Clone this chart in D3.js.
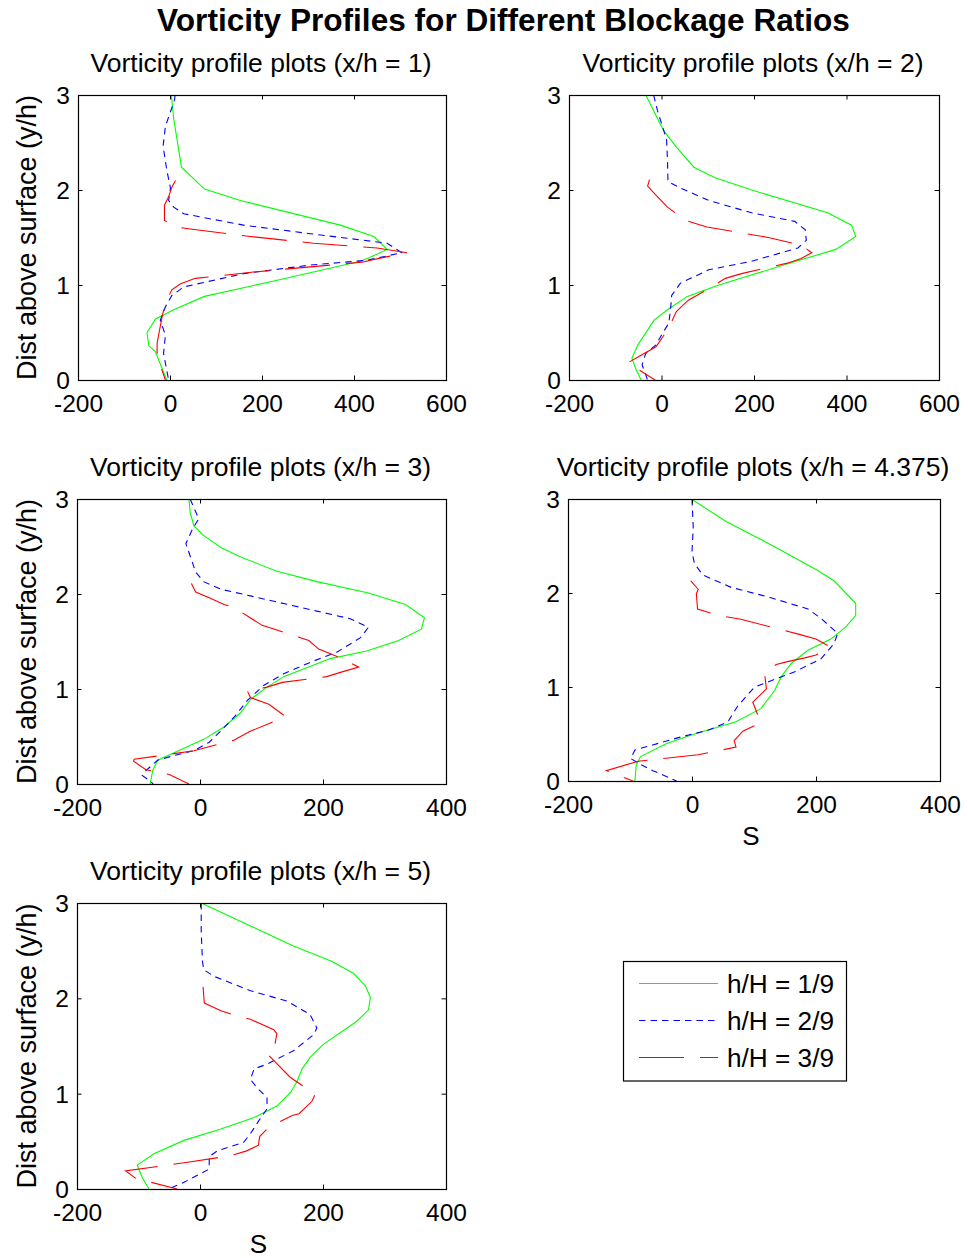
<!DOCTYPE html>
<html>
<head>
<meta charset="utf-8">
<script src="https://cdn.jsdelivr.net/npm/d3@7/dist/d3.min.js"></script>
<style>
  html, body { margin: 0; padding: 0; background: #fff; }
  svg { display: block; }
  text { font-family: "Liberation Sans", Arial, Helvetica, sans-serif; fill: #000; }
</style>
</head>
<body>
<svg id="chart" width="968" height="1258"></svg>
<script>
// ---------------- DATA ----------------
const chartTitle = "Vorticity Profiles for Different Blockage Ratios";
const panelTitles = [
  "Vorticity profile plots (x/h = 1)",
  "Vorticity profile plots (x/h = 2)",
  "Vorticity profile plots (x/h = 3)",
  "Vorticity profile plots (x/h = 4.375)",
  "Vorticity profile plots (x/h = 5)"
];
const seriesNames = ["h/H = 1/9", "h/H = 2/9", "h/H = 3/9"];
const yLabel = "Dist above surface (y/h)";
const xLabel = "S";
const yTicks = [0, 1, 2, 3];
const xTicksWide = [-200, 0, 200, 400, 600];
const xTicksNarrow = [-200, 0, 200, 400];

// each point: [S, y/h]
const p1Green = [[3,3.0],[8,2.75],[25,2.24],[75,2.01],[153,1.89],[370,1.63],[443,1.51],[472,1.375],[439,1.30],[414,1.25],[233,1.05],[75,0.88],[8,0.74],[-32,0.64],[-50,0.50],[-46,0.36],[-32,0.30],[-7,0]];
const p1Blue = [[11,3.0],[10,2.95],[-10,2.67],[-15,2.46],[-7,2.21],[1,2.02],[-3,1.89],[8,1.82],[30,1.75],[160,1.63],[305,1.54],[472,1.44],[504,1.34],[428,1.26],[305,1.21],[160,1.12],[30,0.98],[4,0.89],[-10,0.77],[-21,0.63],[-10,0.47],[-14,0.28],[-3,0]];
const p1Red = [[12,2.1],[5,2.04],[-3,1.93],[-12,1.84],[-12,1.68],[15,1.61],[44,1.59],[175,1.51],[312,1.44],[450,1.39],[515,1.34],[454,1.28],[417,1.24],[189,1.14],[55,1.07],[22,1.01],[4,0.95],[-10,0.81],[-17,0.67],[-28,0.39],[-28,0.25],[-10,0]];

const p2Green = [[-34,3.0],[4,2.63],[31,2.46],[70,2.24],[116,2.13],[195,2.0],[359,1.76],[411,1.63],[420,1.51],[377,1.375],[298,1.26],[124,1.0],[56,0.88],[16,0.75],[-16,0.63],[-51,0.37],[-64,0.23],[-55,0.11],[-44,0]];
const p2Blue = [[-17,3.0],[-9,2.84],[2,2.67],[11,2.53],[13,2.30],[14,2.09],[41,2.02],[102,1.89],[195,1.76],[288,1.67],[311,1.58],[313,1.47],[295,1.39],[195,1.25],[102,1.16],[41,1.02],[22,0.89],[20,0.77],[16,0.60],[2,0.49],[-12,0.37],[-34,0.28],[-42,0.16],[-30,0]];
const p2Red = [[-26,2.11],[-30,2.04],[-11,1.94],[13,1.82],[52,1.68],[98,1.61],[231,1.50],[302,1.42],[325,1.34],[302,1.28],[272,1.23],[173,1.12],[138,1.07],[102,0.96],[58,0.84],[32,0.72],[15,0.54],[-12,0.35],[-48,0.25],[-73,0.18],[-14,0]];

const p3Green = [[-18,3.0],[-16,2.86],[-10,2.72],[5,2.62],[34,2.49],[66,2.39],[125,2.24],[190,2.13],[274,2.01],[334,1.89],[365,1.75],[360,1.63],[323,1.51],[271,1.40],[212,1.32],[136,1.13],[109,1.02],[82,0.89],[66,0.75],[39,0.60],[6,0.47],[-42,0.33],[-69,0.25],[-77,0.14],[-81,0]];
const p3Blue = [[-16,3.0],[-2,2.79],[-11,2.70],[-23,2.53],[-16,2.40],[-7,2.23],[6,2.13],[34,2.05],[82,1.98],[190,1.82],[244,1.74],[274,1.65],[261,1.54],[223,1.39],[179,1.28],[136,1.16],[104,1.04],[77,0.88],[55,0.70],[34,0.56],[15,0.44],[-10,0.35],[-42,0.30],[-69,0.25],[-88,0.14],[-94,0.09],[-83,0.04],[-76,0]];
const p3Red = [[-14,2.11],[-7,2.02],[15,1.96],[39,1.89],[55,1.86],[79,1.76],[101,1.67],[125,1.62],[177,1.51],[193,1.42],[228,1.33],[258,1.23],[231,1.18],[206,1.13],[134,1.07],[109,1.02],[77,0.98],[82,0.91],[112,0.84],[139,0.71],[80,0.55],[55,0.46],[-10,0.35],[-42,0.32],[-107,0.26],[-108,0.24],[-88,0.15],[-50,0.10],[-18,0]];

const p4Green = [[-1,3.0],[55,2.76],[128,2.51],[203,2.24],[229,2.13],[264,1.89],[264,1.76],[248,1.64],[224,1.51],[187,1.39],[160,1.25],[144,1.11],[133,0.96],[111,0.77],[71,0.63],[4,0.50],[-41,0.40],[-83,0.26],[-90,0.17],[-92,0]];
const p4Blue = [[0,3.0],[2,2.70],[0,2.44],[4,2.31],[18,2.19],[63,2.06],[122,1.96],[187,1.83],[208,1.73],[235,1.57],[229,1.46],[208,1.30],[165,1.16],[101,1.0],[74,0.80],[58,0.63],[26,0.54],[-17,0.47],[-92,0.33],[-99,0.24],[-84,0.18],[-63,0.11],[-25,0]];
const p4Red = [[-2,2.13],[10,2.04],[7,1.99],[9,1.83],[44,1.76],[79,1.72],[173,1.56],[200,1.51],[222,1.43],[200,1.34],[182,1.31],[154,1.27],[136,1.24],[117,1.15],[120,0.98],[98,0.84],[111,0.62],[82,0.53],[68,0.43],[71,0.36],[10,0.28],[-87,0.21],[-138,0.11],[-95,0]];

const p5Green = [[2,3.0],[82,2.76],[152,2.55],[214,2.39],[250,2.26],[269,2.13],[277,2.01],[274,1.88],[255,1.76],[201,1.52],[179,1.38],[166,1.26],[158,1.13],[147,1.01],[125,0.87],[88,0.75],[34,0.63],[-26,0.51],[-75,0.37],[-102,0.25],[-94,0.12],[-83,0]];
const p5Blue = [[2,3.0],[2,2.70],[4,2.39],[6,2.30],[23,2.23],[82,2.08],[142,1.97],[179,1.83],[190,1.69],[185,1.62],[152,1.45],[109,1.31],[88,1.26],[82,1.15],[93,1.06],[109,0.96],[109,0.84],[96,0.72],[82,0.58],[71,0.49],[28,0.40],[15,0.34],[15,0.21],[-26,0.07],[-52,0]];
const p5Red = [[5,2.12],[7,1.95],[34,1.87],[58,1.82],[82,1.78],[120,1.67],[125,1.63],[122,1.52],[109,1.42],[147,1.17],[170,1.07],[187,0.99],[182,0.92],[161,0.79],[150,0.77],[125,0.69],[109,0.63],[97,0.55],[95,0.46],[76,0.40],[50,0.35],[-20,0.28],[-121,0.19],[-104,0.11],[-37,0]];

// ---------------- STYLE / LAYOUT ----------------
const seriesStyles = [
  { color: "#00ff00", dash: null },
  { color: "#0000ff", dash: "6.5,5" },
  { color: "#ff0000", dash: "45,16" }
];
const panels = [
  { title: panelTitles[0], series: [p1Green, p1Blue, p1Red], xDomain: [-200, 600], xTicks: xTicksWide,   box: [78, 95, 446, 380],   ylab: true,  xlab: false },
  { title: panelTitles[1], series: [p2Green, p2Blue, p2Red], xDomain: [-200, 600], xTicks: xTicksWide,   box: [569, 95, 939, 380],  ylab: false, xlab: false },
  { title: panelTitles[2], series: [p3Green, p3Blue, p3Red], xDomain: [-200, 400], xTicks: xTicksNarrow, box: [77, 499, 446, 784],  ylab: true,  xlab: false },
  { title: panelTitles[3], series: [p4Green, p4Blue, p4Red], xDomain: [-200, 400], xTicks: xTicksNarrow, box: [568, 499, 940, 781], ylab: false, xlab: true },
  { title: panelTitles[4], series: [p5Green, p5Blue, p5Red], xDomain: [-200, 400], xTicks: xTicksNarrow, box: [77, 903, 446, 1189], ylab: true,  xlab: true }
];

const svg = d3.select("#chart");
const tickLen = 4.5;
const fmt = d => String(d);

svg.append("text")
  .attr("x", 503.5).attr("y", 31)
  .attr("text-anchor", "middle")
  .style("font-size", "31.6px").style("font-weight", "bold")
  .text(chartTitle);

panels.forEach((p, i) => {
  const [x0, y0, x1, y1] = p.box;
  const xs = d3.scaleLinear().domain(p.xDomain).range([x0, x1]);
  const ys = d3.scaleLinear().domain([0, 3]).range([y1, y0]);
  const g = svg.append("g");

  const clipId = "clip" + i;
  svg.append("clipPath").attr("id", clipId)
    .append("rect").attr("x", x0).attr("y", y0).attr("width", x1 - x0).attr("height", y1 - y0);

  // plot lines
  const line = d3.line().x(d => xs(d[0])).y(d => ys(d[1]));
  const lg = g.append("g").attr("clip-path", `url(#${clipId})`);
  p.series.forEach((s, k) => {
    lg.append("path")
      .datum(s)
      .attr("d", line)
      .attr("fill", "none")
      .attr("stroke", seriesStyles[k].color)
      .attr("stroke-width", 1.1)
      .attr("stroke-dasharray", seriesStyles[k].dash);
  });

  // axes: bottom/top and left/right with inward ticks
  const axB = d3.axisBottom(xs).tickValues(p.xTicks).tickSizeInner(-tickLen).tickSizeOuter(0).tickFormat(fmt);
  const axT = d3.axisTop(xs).tickValues(p.xTicks).tickSizeInner(-tickLen).tickSizeOuter(0).tickFormat("");
  const axL = d3.axisLeft(ys).tickValues(yTicks).tickSizeInner(-tickLen).tickSizeOuter(0).tickFormat(fmt);
  const axR = d3.axisRight(ys).tickValues(yTicks).tickSizeInner(-tickLen).tickSizeOuter(0).tickFormat("");

  const gb = g.append("g").attr("transform", `translate(0,${y1})`).call(axB);
  gb.selectAll("text").attr("y", 32).attr("dy", null).style("font-size", "24.5px");
  const gt = g.append("g").attr("transform", `translate(0,${y0})`).call(axT);
  const gl = g.append("g").attr("transform", `translate(${x0},0)`).call(axL);
  gl.selectAll("text").attr("x", -8).attr("dy", "8.5").style("font-size", "24.5px");
  const gr = g.append("g").attr("transform", `translate(${x1},0)`).call(axR);
  [gb, gt, gl, gr].forEach(a => {
    a.select(".domain").remove();
    a.selectAll(".tick line").attr("stroke", "#000").attr("stroke-width", 1);
    a.attr("font-family", null).attr("font-size", null);
  });
  // suppress tick marks at the frame corners
  [gb, gt].forEach(a => a.selectAll(".tick line").filter(d => d === p.xDomain[0] || d === p.xDomain[1]).remove());
  [gl, gr].forEach(a => a.selectAll(".tick line").filter(d => d === 0 || d === 3).remove());

  // frame
  g.append("rect")
    .attr("x", x0 + 0.5).attr("y", y0 + 0.5)
    .attr("width", x1 - x0).attr("height", y1 - y0)
    .attr("fill", "none").attr("stroke", "#000").attr("stroke-width", 1.2);

  // subplot title
  g.append("text")
    .attr("x", (x0 + x1) / 2 - 1).attr("y", y0 - 23.5)
    .attr("text-anchor", "middle")
    .style("font-size", "26.5px")
    .text(p.title);

  if (p.ylab) {
    g.append("text")
      .attr("transform", `translate(${36},${(y0 + y1) / 2}) rotate(-90)`)
      .attr("text-anchor", "middle")
      .style("font-size", "27px")
      .text(yLabel);
  }
  if (p.xlab) {
    g.append("text")
      .attr("x", (x0 + x1) / 2 - 3).attr("y", y1 + 64)
      .attr("text-anchor", "middle")
      .style("font-size", "26px")
      .text(xLabel);
  }
});

// legend
const leg = svg.append("g");
leg.append("rect")
  .attr("x", 623.5).attr("y", 961.5).attr("width", 223).attr("height", 119.5)
  .attr("fill", "#fff").attr("stroke", "#000").attr("stroke-width", 1.2);
const legY = d3.scalePoint().domain(seriesNames).range([983.5, 1057.5]);
seriesNames.forEach((name, k) => {
  const y = legY(name);
  leg.append("line")
    .attr("x1", 639).attr("x2", 718).attr("y1", y).attr("y2", y)
    .attr("stroke", seriesStyles[k].color).attr("stroke-width", 1.1)
    .attr("stroke-dasharray", seriesStyles[k].dash);
  leg.append("text")
    .attr("x", 727).attr("y", y + 9.5)
    .style("font-size", "26.2px")
    .text(name);
});
</script>
</body>
</html>
